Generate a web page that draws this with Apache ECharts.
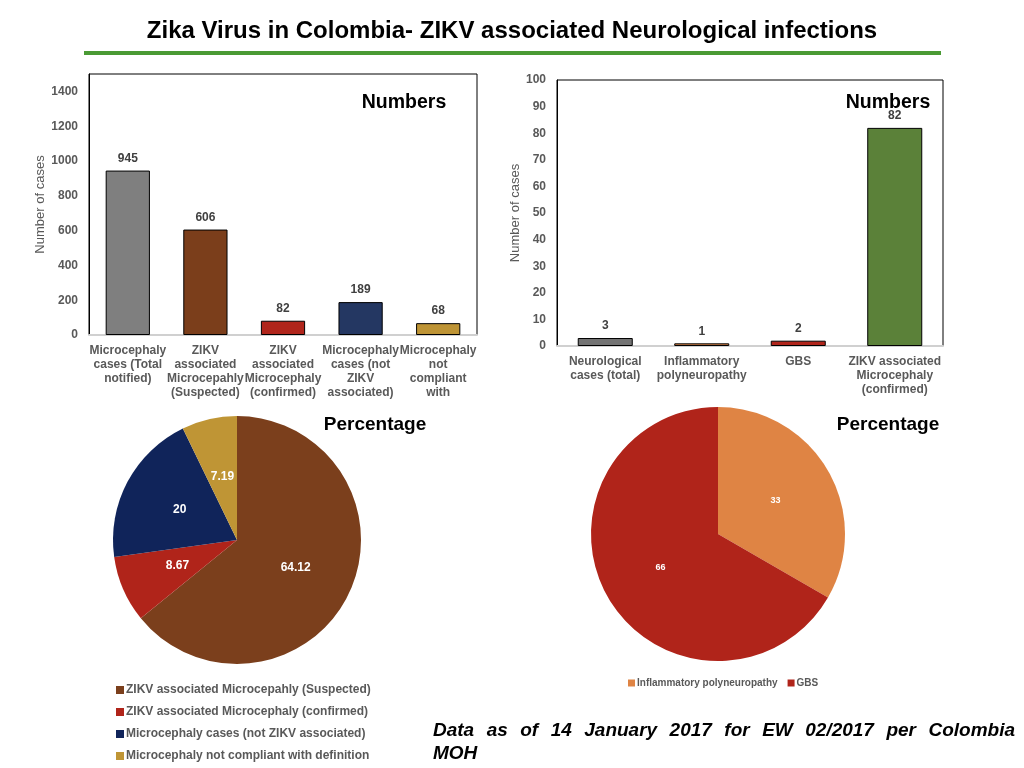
<!DOCTYPE html>
<html>
<head>
<meta charset="utf-8">
<script src="https://cdn.jsdelivr.net/npm/echarts@6/dist/echarts.min.js"></script>
<style>
  html, body { margin: 0; padding: 0; background: #fff; }
  #chart { width: 1024px; height: 768px; }
  #note {
    position: absolute; left: 433px; top: 718px; width: 582px;
    font: italic bold 19px "Liberation Sans", Arial, sans-serif;
    line-height: 23px; color: #000;
  }
  #note .l1 { text-align: justify; text-align-last: justify; }
</style>
</head>
<body>
<div id="chart"></div>
<div id="note"><div class="l1">Data as of 14 January 2017 for EW 02/2017 per Colombia</div><div>MOH</div></div>
<script>
// --- DATA ---
const microCategories = [
    'Microcephaly\ncases (Total\nnotified)',
    'ZIKV\nassociated\nMicrocepahly\n(Suspected)',
    'ZIKV\nassociated\nMicrocephaly\n(confirmed)',
    'Microcephaly\ncases (not\nZIKV\nassociated)',
    'Microcephaly\nnot\ncompliant\nwith'
];
const microCounts = [945, 606, 82, 189, 68];
const microColors = ['#7f7f7f', '#7b3e1b', '#b0251b', '#243762', '#be9435'];

const neuroCategories = [
    'Neurological\ncases (total)',
    'Inflammatory\npolyneuropathy',
    'GBS',
    'ZIKV associated\nMicrocephaly\n(confirmed)'
];
const neuroCounts = [3, 1, 2, 82];
const neuroColors = ['#737373', '#e2874a', '#b0251b', '#5b8139'];

const microPieNames = [
    'ZIKV associated Microcepahly (Suspected)',
    'ZIKV associated Microcephaly (confirmed)',
    'Microcephaly cases (not ZIKV associated)',
    'Microcephaly not compliant with definition'
];
const microPieValues = [64.12, 8.67, 20, 7.19];
const microPieColors = ['#7b3f1c', '#b0241a', '#10245a', '#bf9535'];

const neuroPieNames = ['Inflammatory polyneuropathy', 'GBS'];
const neuroPieValues = [33, 66];
const neuroPieColors = ['#df8444', '#b0241a'];

// --- HELPERS ---
const FONT = '"Liberation Sans", Arial, sans-serif';
const GREY = '#595959';

const barData = (vals, colors) => vals.map((v, i) => ({ value: v, itemStyle: { color: colors[i] } }));
const pieData = (names, vals, colors) => names.map((n, i) => ({ name: n, value: vals[i], itemStyle: { color: colors[i] } }));

const yAxisCommon = {
    type: 'value',
    name: 'Number of cases',
    nameLocation: 'middle',
    nameRotate: 90,
    nameTextStyle: { color: GREY, fontSize: 13, fontFamily: FONT },
    splitLine: { show: false },
    axisLine: { show: true, lineStyle: { color: '#000' } },
    axisTick: { show: false },
    axisLabel: { color: GREY, fontSize: 12, fontWeight: 'bold', fontFamily: FONT, margin: 11, formatter: v => String(v) }
};
const xAxisCommon = {
    type: 'category',
    axisTick: { show: false },
    axisLine: { lineStyle: { color: '#d0d0d0', width: 2 } },
    axisLabel: { interval: 0, color: GREY, fontSize: 12, fontWeight: 'bold', fontFamily: FONT, lineHeight: 14, margin: 9 }
};
const barLabel = { show: true, position: 'top', distance: 6, color: '#404040', fontSize: 12, fontWeight: 'bold', fontFamily: FONT };
const bigText = (text, x, y, size) => ({
    type: 'text', x: x, y: y,
    style: { text: text, fill: '#000', font: 'bold ' + size + 'px ' + FONT, textAlign: 'center', textVerticalAlign: 'middle' }
});

const chart = echarts.init(document.getElementById('chart'));
chart.setOption({
    animation: false,
    grid: [
        { left: 89, top: 74, width: 388, height: 261, show: true, borderColor: '#000', borderWidth: 1 },
        { left: 557, top: 80, width: 386, height: 266, show: true, borderColor: '#000', borderWidth: 1 }
    ],
    xAxis: [
        Object.assign({}, xAxisCommon, { gridIndex: 0, data: microCategories }),
        Object.assign({}, xAxisCommon, { gridIndex: 1, data: neuroCategories })
    ],
    yAxis: [
        Object.assign({}, yAxisCommon, { gridIndex: 0, min: 0, max: 1500, interval: 200, nameGap: 40,
            axisLabel: Object.assign({}, yAxisCommon.axisLabel, { showMaxLabel: false }) }),
        Object.assign({}, yAxisCommon, { gridIndex: 1, min: 0, max: 100, interval: 10, nameGap: 32 })
    ],
    legend: [
        {
            data: microPieNames, orient: 'vertical', left: 111, top: 679,
            icon: 'rect', itemWidth: 8, itemHeight: 8, itemGap: 10,
            textStyle: { color: GREY, fontSize: 12, fontWeight: 'bold', fontFamily: FONT, padding: [0, 0, 0, -3] }
        },
        {
            data: neuroPieNames, orient: 'horizontal', left: 623, top: 673,
            icon: 'rect', itemWidth: 7, itemHeight: 7, itemGap: 10,
            textStyle: { color: GREY, fontSize: 10, fontWeight: 'bold', fontFamily: FONT, padding: [0, 0, 0, -3] }
        }
    ],
    series: [
        {
            type: 'bar', xAxisIndex: 0, yAxisIndex: 0, barWidth: '57%',
            data: barData(microCounts, microColors),
            itemStyle: { borderColor: '#000', borderWidth: 1 },
            label: barLabel
        },
        {
            type: 'bar', xAxisIndex: 1, yAxisIndex: 1, barWidth: '57%',
            data: barData(neuroCounts, neuroColors),
            itemStyle: { borderColor: '#000', borderWidth: 1 },
            label: barLabel
        },
        {
            type: 'pie', center: [237, 540], radius: 124, startAngle: 90, clockwise: true,
            data: pieData(microPieNames, microPieValues, microPieColors),
            label: { show: true, position: 'inside', formatter: '{c}', color: '#fff', fontSize: 12, fontWeight: 'bold', fontFamily: FONT },
            labelLine: { show: false }
        },
        {
            type: 'pie', center: [718, 534], radius: 127, startAngle: 90, clockwise: true,
            data: pieData(neuroPieNames, neuroPieValues, neuroPieColors),
            label: { show: true, position: 'inside', formatter: '{c}', color: '#fff', fontSize: 9, fontWeight: 'bold', fontFamily: FONT },
            labelLine: { show: false }
        }
    ],
    graphic: [
        {
            type: 'text', x: 512, y: 31,
            style: { text: 'Zika Virus in Colombia- ZIKV associated Neurological infections', fill: '#000',
                font: 'bold 24px ' + FONT, textAlign: 'center', textVerticalAlign: 'middle' }
        },
        { type: 'rect', shape: { x: 84, y: 51, width: 857, height: 4 }, style: { fill: '#4a9a34' } },
        bigText('Numbers', 404, 103, 19.5),
        bigText('Numbers', 888, 103, 19.5),
        bigText('Percentage', 375, 425, 19),
        bigText('Percentage', 888, 425, 19)
    ]
});
</script>
</body>
</html>
